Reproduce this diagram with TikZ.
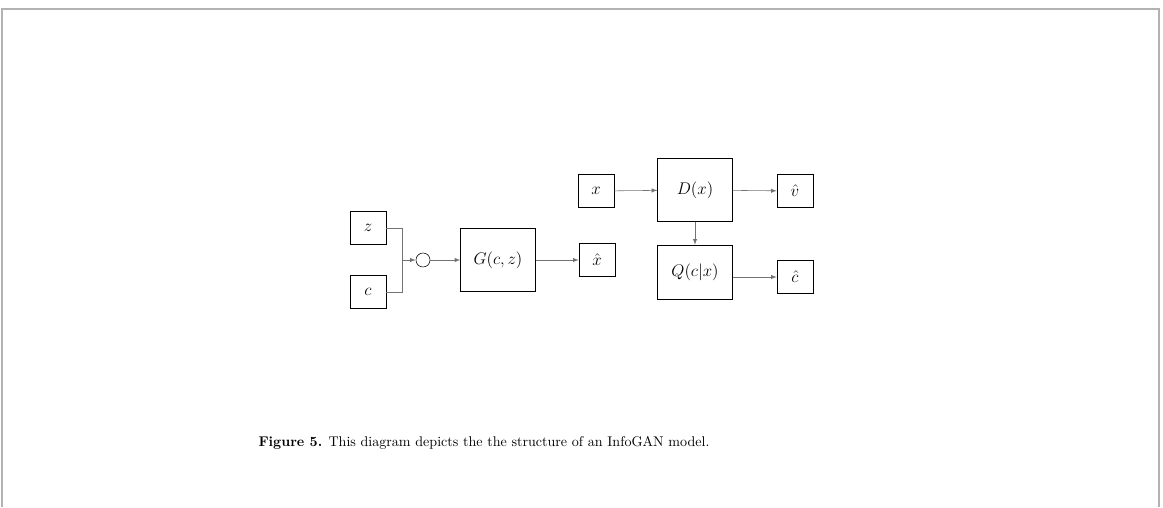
\documentclass[tikz,border=0pt]{standalone}
\usepackage{amsmath,amsfonts,amssymb}
\usetikzlibrary{shapes, arrows, positioning, calc}

\begin{document}
\begin{tikzpicture}[x=0.025cm, y=-0.025cm, >=latex, every node/.style={draw, inner sep=0pt},
		small/.style={minimum width=0.9cm, minimum height=0.83cm, font=\large},
		big/.style={minimum width=1.87cm, minimum height=1.58cm, font=\large},
		link/.style={draw=black!55, thin}]
			\useasboundingbox (0,0) rectangle (1163,507);
			\draw[black!30, line width=1.2pt] (2,507) |- (1159,9) -- (1159,507);

			\node[small] at (368, 228) (z) {$z$};
			\node[small] at (368, 292) (c) {$c$};
			\coordinate (join) at (402, 260);
			\node[circle, minimum size=0.35cm] at (423, 260) (merge) {};
			\node[big] at (498, 260) (G) {$G(c,z)$};
			\node[small] at (597, 260) (xhat) {$\hat{x}$};

			\node[small] at (596, 191) (x) {$x$};
			\node[big] at (695, 190) (D) {$D(x)$};
			\node[big, minimum height=1.35cm] at (695, 272) (Q) {$Q(c|x)$};
			\node[small] at (795, 191) (vhat) {$\hat{v}$};
			\node[small] at (795, 277) (chat) {$\hat{c}$};

			\draw[link] (z) -| (join);
			\draw[link] (c) -| (join);
			\foreach \from/\to in {
				join/merge, merge/G, G/xhat, x/D, D/vhat, D/Q}
				\draw[link, ->] (\from) -- (\to);
			\draw[link, ->] (Q.east |- chat) -- (chat);

			\node[draw=none, align=center] at (484, 443) (caption)
				{\textbf{Figure 5.} This diagram depicts the the structure of an InfoGAN model.};
		\end{tikzpicture}
\end{document}
